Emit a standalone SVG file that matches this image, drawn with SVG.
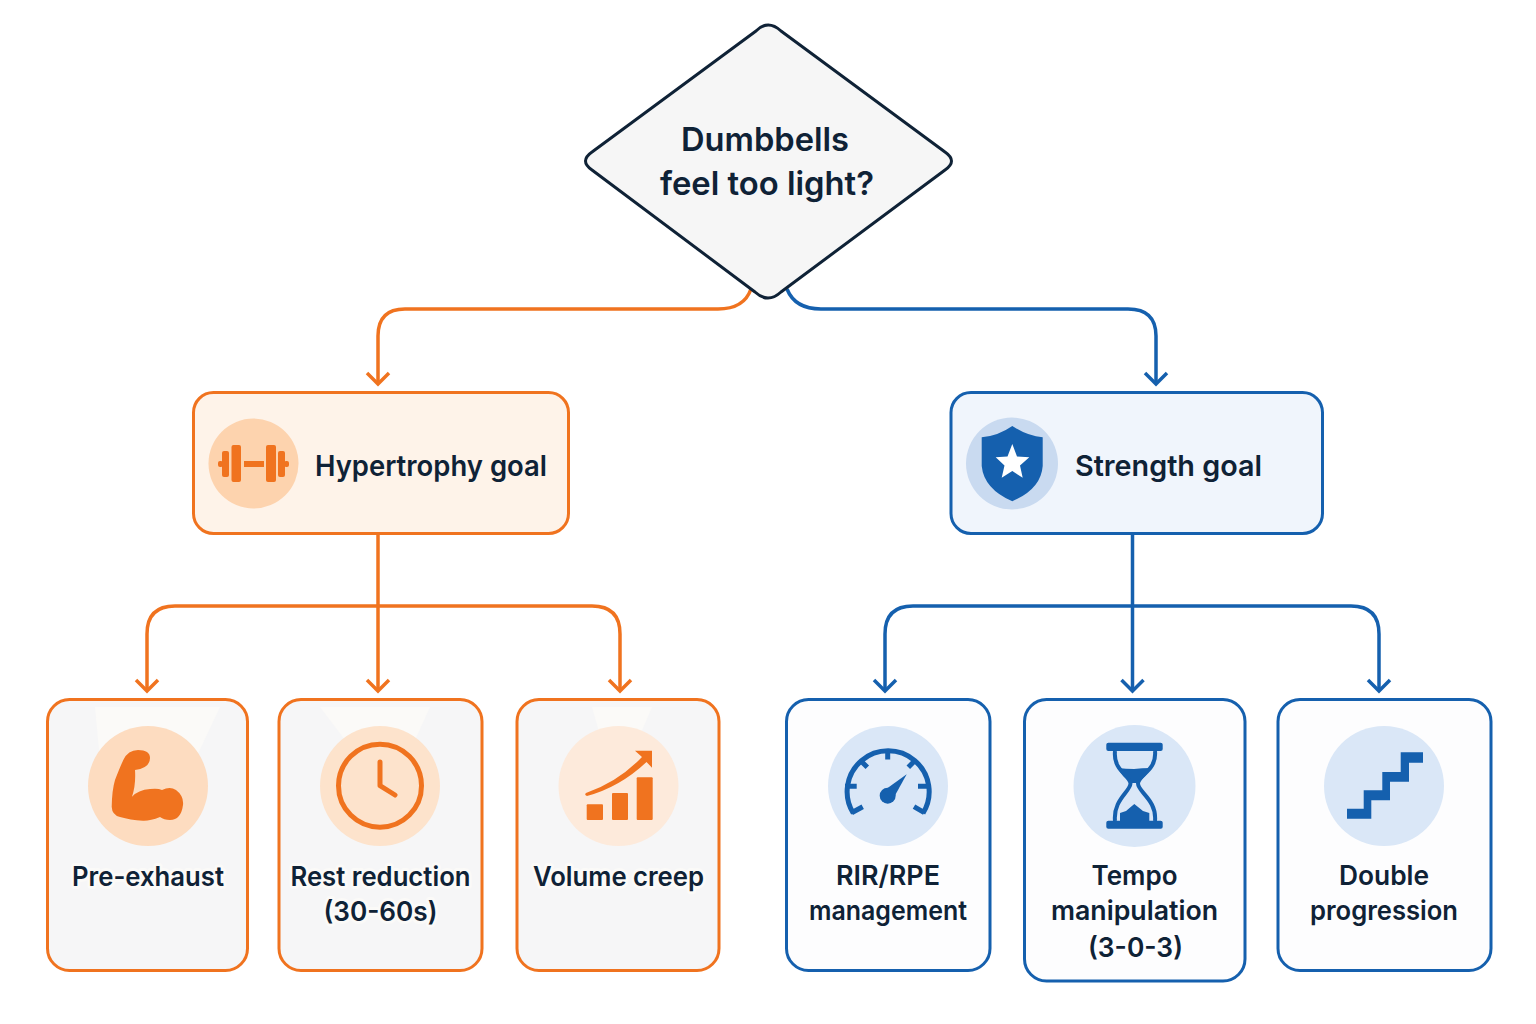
<svg xmlns="http://www.w3.org/2000/svg" width="1536" height="1024" viewBox="0 0 1536 1024">
<defs>
<style>
text{font-family:Inter,"Noto Sans","Liberation Sans",sans-serif;font-weight:600;fill:#0f2236;text-anchor:middle;font-size:27px}
.big{font-size:33px}
.head{font-size:29px;text-anchor:start}
.halo{paint-order:stroke;stroke:#fbfaf8;stroke-width:6px;stroke-linejoin:round}
.o{fill:#f0731f}.b{fill:#1560ae}
.co{fill:none;stroke:#f0731f;stroke-width:3.5px}
.cb{fill:none;stroke:#1560ae;stroke-width:3.5px}
.card-o{fill:#f6f6f7;stroke:#f0731f;stroke-width:3px}
.card-b{fill:#fdfdfe;stroke:#1560ae;stroke-width:3px}
.hal{fill:#fbfaf8}
.ln{fill:none;stroke:#1560ae;stroke-width:5px}
</style>
<marker id="ao" markerUnits="userSpaceOnUse" markerWidth="30" markerHeight="30" refX="20" refY="15" orient="auto"><path d="M9 4L20 15L9 26" fill="none" stroke="#f0731f" stroke-width="3.5"/></marker>
<marker id="ab" markerUnits="userSpaceOnUse" markerWidth="30" markerHeight="30" refX="20" refY="15" orient="auto"><path d="M9 4L20 15L9 26" fill="none" stroke="#1560ae" stroke-width="3.5"/></marker>
</defs>
<rect width="1536" height="1024" fill="#ffffff"/>
<g id="connectors">
<path class="co" marker-end="url(#ao)" d="M751 289Q744 309 718 309L405 309Q378 309 378 336L378 384"/>
<path class="cb" marker-end="url(#ab)" d="M787 289Q795 309 821 309L1128 309Q1156 309 1156 336L1156 384"/>
<path class="co" marker-end="url(#ao)" d="M378 534L378 691"/>
<path class="co" marker-end="url(#ao)" d="M378 606L175 606Q147 606 147 634L147 691"/>
<path class="co" marker-end="url(#ao)" d="M378 606L592 606Q620 606 620 634L620 691"/>
<path class="cb" marker-end="url(#ab)" d="M1132.500 534L1132.500 691"/>
<path class="cb" marker-end="url(#ab)" d="M1132 606L913 606Q885 606 885 634L885 691"/>
<path class="cb" marker-end="url(#ab)" d="M1132 606L1351 606Q1379 606 1379 634L1379 691"/>
</g>
<g id="decision">
<path d="M756 31Q768 19 781 31L945 152Q958 161 945 170L781 292Q768 304 755 292L592 170Q579 161 592 152Z" fill="#f6f6f6" stroke="#0f2236" stroke-width="3" stroke-linejoin="round"/>
<text class="big" x="765" y="151" textLength="168" lengthAdjust="spacingAndGlyphs">Dumbbells</text>
<text class="big" x="767" y="195" textLength="214" lengthAdjust="spacingAndGlyphs">feel too light?</text>
</g>
<g id="hypertrophy">
<rect x="193.500" y="392.500" width="375" height="141" rx="20" fill="#fef3e9" stroke="#f0731f" stroke-width="3"/>
<circle cx="253.500" cy="463.500" r="45" fill="#fdd3ae"/>
<g class="o">
<rect x="244" y="461" width="20" height="6"/>
<rect x="231.500" y="445" width="9.500" height="37" rx="2"/>
<rect x="266" y="445" width="10" height="37" rx="2"/>
<rect x="222" y="451" width="7" height="26" rx="2"/>
<rect x="278" y="451" width="7" height="26" rx="2"/>
<rect x="218" y="461" width="5" height="6" rx="2"/>
<rect x="284" y="461" width="5" height="6" rx="2"/>
</g>
<text class="head" x="315" y="476" textLength="232" lengthAdjust="spacingAndGlyphs">Hypertrophy goal</text>
</g>
<g id="strength">
<rect x="951" y="392.500" width="371.500" height="141" rx="20" fill="#f0f5fc" stroke="#1560ae" stroke-width="3"/>
<circle cx="1012" cy="463.500" r="46" fill="#c9daf0"/>
<path class="b" d="M1012.300 426Q1027 436 1042.700 437.300L1042.700 466Q1041 489 1012.300 501.300Q984 489 981.700 466L981.700 437.300Q998 436 1012.300 426Z"/>
<path fill="#ffffff" d="M1012.300 444L1017 456.500L1029.300 457.300L1020 465.500L1022.700 477.700L1012.300 471L1001.700 477.700L1004.500 465.500L995.700 457.300L1007.500 456.500Z"/>
<text class="head" x="1075" y="476" textLength="187" lengthAdjust="spacingAndGlyphs">Strength goal</text>
</g>
<g id="pre-exhaust">
<rect x="47.500" y="699.500" width="200" height="271" rx="22" class="card-o"/>
<path class="hal" d="M95 707L220 707L195 760L100 760Z"/>
<circle cx="148" cy="786" r="60" fill="#fddcc0"/>
<path class="o" d="M111.700 806.700Q112 790 115 780Q120 767 123.300 760Q128 750 138 750Q150 750 150 758Q150 768 135 770Q136 785 132 796.700Q138 790 150 789Q158 788 162 790Q170 786 176 790Q184 796 183 805Q181 820 170 820Q164 820 160 817Q150 821 143 820.700Q130 820 120 817Q112 815 111.700 806.700Z"/>
<text class="halo" x="148" y="886" textLength="152" lengthAdjust="spacingAndGlyphs">Pre-exhaust</text>
</g>
<g id="rest-reduction">
<rect x="279" y="699.500" width="203" height="271" rx="22" class="card-o"/>
<path class="hal" d="M320 707L430 707L415 740L345 740Z"/>
<circle cx="380" cy="786" r="60" fill="#fde3cc"/>
<circle cx="380" cy="785.700" r="41.500" fill="none" stroke="#f0731f" stroke-width="5"/>
<path d="M380 762L380 785.700L395 795" fill="none" stroke="#f0731f" stroke-width="5" stroke-linecap="round" stroke-linejoin="round"/>
<text class="halo" x="380.500" y="886" textLength="180" lengthAdjust="spacingAndGlyphs">Rest reduction</text>
<text class="halo" x="380.500" y="921" textLength="114" lengthAdjust="spacingAndGlyphs">(30-60s)</text>
</g>
<g id="volume-creep">
<rect x="517" y="699.500" width="202" height="271" rx="22" class="card-o"/>
<path class="hal" d="M592 707L652 707L640 735L600 735Z"/>
<circle cx="618.500" cy="786" r="60" fill="#fdeadb"/>
<g class="o">
<rect x="586.700" y="804.300" width="16.300" height="15.700" rx="1"/>
<rect x="612" y="793" width="16" height="27" rx="1"/>
<rect x="636.700" y="777.300" width="16" height="42.700" rx="1"/>
<path d="M586 793Q618 782 642 757L635 750.700L652 750.700L652 767.700L646.500 762Q620 787 587 796Q584 795 586 793Z"/>
</g>
<text class="halo" x="618.500" y="886" textLength="171" lengthAdjust="spacingAndGlyphs">Volume creep</text>
</g>
<g id="rir-rpe">
<rect x="786.500" y="699.500" width="203.500" height="271" rx="22" class="card-b"/>
<circle cx="888" cy="786" r="60" fill="#dae7f7"/>
<path class="ln" d="M853.300 813.300A41 41 0 1 1 923 813.300"/>
<path class="ln" stroke-linecap="butt" d="M887.700 750L887.700 759.500M845 786.300L856.700 786.300M918 786.300L930 786.300M860 760L867.300 767.300M915.500 760L908.300 767.300M851.700 812.700L862.700 806.700M924.300 812.700L914 806.700"/>
<circle class="b" cx="887.700" cy="795.700" r="8"/>
<path class="b" d="M882 792L906.700 774.300L893 799Z"/>
<text x="888" y="885" textLength="104" lengthAdjust="spacingAndGlyphs">RIR/RPE</text>
<text x="888" y="920" textLength="158" lengthAdjust="spacingAndGlyphs">management</text>
</g>
<g id="tempo">
<rect x="1024.500" y="699.500" width="220.500" height="281.500" rx="22" class="card-b"/>
<circle cx="1134.500" cy="786" r="61" fill="#dae7f7"/>
<g class="b">
<rect x="1106.300" y="742.700" width="56.400" height="8.300" rx="2"/>
<rect x="1106.300" y="820.700" width="56.400" height="8" rx="2"/>
<path d="M1118 768Q1126 769 1134 769Q1142 768 1151 768Q1146 777 1137 783L1132 783Q1122 777 1118 768Z"/>
<path d="M1120 821L1120 813L1126 811L1134.300 804L1143 811L1149.300 813L1149.300 821Z"/>
</g>
<path fill="none" stroke="#1560ae" stroke-width="4" d="M1115 751C1113 771 1130 775 1130.500 783.500C1130 792 1113 800 1115 821M1155 751C1157 771 1138 775 1138 783.500C1138 792 1157 800 1155 821"/>
<text x="1134.500" y="885" textLength="86" lengthAdjust="spacingAndGlyphs">Tempo</text>
<text x="1134.500" y="920" textLength="167" lengthAdjust="spacingAndGlyphs">manipulation</text>
<text x="1135.500" y="957" textLength="95" lengthAdjust="spacingAndGlyphs">(3-0-3)</text>
</g>
<g id="double-progression">
<rect x="1278" y="699.500" width="213" height="271" rx="22" class="card-b"/>
<circle cx="1384" cy="786" r="60" fill="#dae7f7"/>
<path class="b" d="M1347 808.700L1363.700 808.700L1363.700 790.300L1382.300 790.300L1382.300 772L1400.700 772L1400.700 752.300L1423 752.300L1423 762.700L1409 762.700L1409 781.700L1390 781.700L1390 800.300L1371.300 800.300L1371.300 818.700L1347 818.700Z"/>
<text x="1384" y="885" textLength="90" lengthAdjust="spacingAndGlyphs">Double</text>
<text x="1384" y="920" textLength="148" lengthAdjust="spacingAndGlyphs">progression</text>
</g>
</svg>
